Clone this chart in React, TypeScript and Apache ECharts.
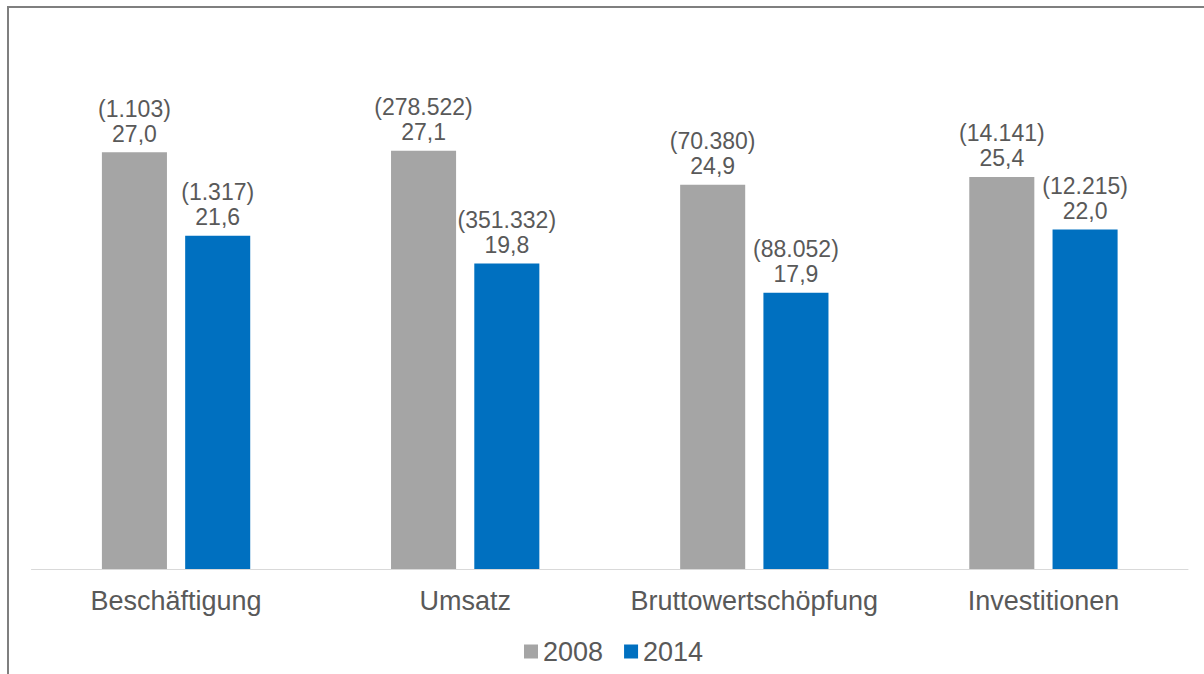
import React, { useEffect, useRef } from "react";
import * as echarts from "echarts";

const categories = ["Beschäftigung", "Umsatz", "Bruttowertschöpfung", "Investitionen"];
const seriesNames = ["2008", "2014"];
const values2008 = [27.0, 27.1, 24.9, 25.4];
const values2014 = [21.6, 19.8, 17.9, 22.0];
const counts2008 = ["1.103", "278.522", "70.380", "14.141"];
const counts2014 = ["1.317", "351.332", "88.052", "12.215"];

const fmt = (v: number) => v.toFixed(1).replace(".", ",");

export default function App() {
  const ref = useRef<HTMLDivElement>(null);
  useEffect(() => {
    document.body.style.margin = "0";
    const chart = echarts.init(ref.current!, null, { renderer: "svg" });
    const font = "Liberation Sans, Arial, sans-serif";
    const mkLabel = (counts: string[]) => ({
      show: true,
      position: "top",
      distance: 6,
      color: "#595959",
      fontSize: 23,
      fontFamily: font,
      lineHeight: 25,
      formatter: (p: any) => `(${counts[p.dataIndex]})\n${fmt(p.value)}`,
    });
    chart.setOption({
      animation: false,
      backgroundColor: "#ffffff",
      graphic: [
        {
          type: "rect",
          shape: { x: 8, y: 7, width: 1300, height: 800 },
          style: { fill: "none", stroke: "#7f7f7f", lineWidth: 2 },
          silent: true,
        },
      ],
      grid: { left: 31.5, right: 16, top: 106, bottom: 105, containLabel: false },
      legend: {
        left: 519,
        top: 633,
        itemWidth: 14,
        itemHeight: 14,
        itemGap: 21,
        icon: "rect",
        textStyle: { color: "#595959", fontSize: 27, fontFamily: font },
        data: seriesNames,
      },
      xAxis: {
        type: "category",
        data: categories,
        axisLine: { show: true, lineStyle: { color: "#d9d9d9", width: 1 } },
        axisTick: { show: false },
        axisLabel: { color: "#595959", fontSize: 27, fontFamily: font, margin: 18, interval: 0, hideOverlap: false },
      },
      yAxis: {
        type: "value",
        min: 0,
        max: 30,
        show: false,
        splitLine: { show: false },
      },
      series: [
        {
          name: seriesNames[0],
          type: "bar",
          data: values2008,
          barWidth: "22.5%",
          barGap: "28%",
          itemStyle: { color: "#a5a5a5" },
          label: mkLabel(counts2008),
        },
        {
          name: seriesNames[1],
          type: "bar",
          data: values2014,
          barWidth: "22.5%",
          barGap: "28%",
          itemStyle: { color: "#0070c0" },
          label: mkLabel(counts2014),
        },
      ],
    });
    return () => chart.dispose();
  }, []);
  return <div ref={ref} style={{ width: 1204, height: 674 }} />;
}
